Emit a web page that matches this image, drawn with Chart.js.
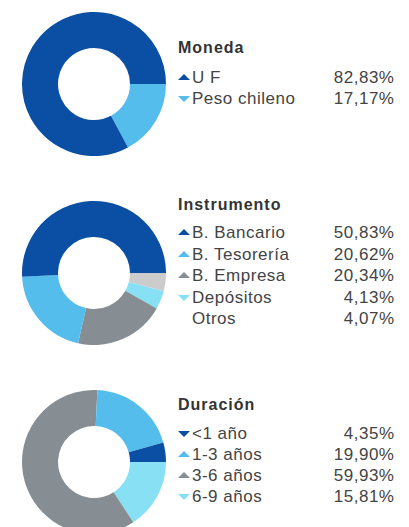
<!DOCTYPE html>
<html>
<head>
<meta charset="utf-8">
<script src="https://cdn.jsdelivr.net/npm/chart.js@4"></script>
<style>
  html, body { margin:0; padding:0; background:#fff; width:409px; height:527px; overflow:hidden; position:relative; }
  canvas.donut { position:absolute; left:22px; }
  .title { position:absolute; left:178px; font:bold 16px "Liberation Sans", Arial, sans-serif; letter-spacing:1px; color:#333; line-height:20px; white-space:nowrap; }
  .row { position:absolute; left:178px; width:216px; height:21px; font:17px "Liberation Sans", Arial, sans-serif; color:#444; line-height:21px; white-space:nowrap; letter-spacing:0.5px; }
  .row .lab { position:absolute; left:14px; }
  .row .val { position:absolute; right:-0.5px; }
  .tri { position:absolute; left:0; width:0; height:0; border-left:6px solid transparent; border-right:6px solid transparent; }
  .tri.up { top:7px; border-bottom:6px solid; }
  .tri.down { top:8px; border-top:6px solid; }
</style>
</head>
<body>
<canvas id="c1" class="donut" width="144" height="144" style="top:12px"></canvas>
<canvas id="c2" class="donut" width="144" height="144" style="top:201px"></canvas>
<canvas id="c3" class="donut" width="144" height="144" style="top:390px"></canvas>
<div id="legends"></div>
<script>
// ---- Data ----
const monedaTitle = 'Moneda';
const monedaLabels = ['U F', 'Peso chileno'];
const monedaValues = [82.83, 17.17];
const monedaColors = ['#0A4FA3', '#55BDEC'];
const monedaMarkers = ['up', 'down'];

const instrTitle = 'Instrumento';
const instrLabels = ['B. Bancario', 'B. Tesorería', 'B. Empresa', 'Depósitos', 'Otros'];
const instrValues = [50.83, 20.62, 20.34, 4.13, 4.07];
const instrColors = ['#0A4FA3', '#55BDEC', '#868E93', '#88E0F4', '#CCCCCC'];
const instrMarkers = ['up', 'up', 'up', 'down', 'none'];

const durTitle = 'Duración';
const durLabels = ['<1 año', '1-3 años', '3-6 años', '6-9 años'];
const durValues = [4.35, 19.90, 59.93, 15.81];
const durColors = ['#0A4FA3', '#55BDEC', '#868E93', '#88E0F4'];
const durMarkers = ['down', 'up', 'up', 'down'];

function fmt(v) { return v.toFixed(2).replace('.', ',') + '%'; }

function makeDonut(id, labels, values, colors) {
  // slices run counter-clockwise from 3 o'clock in legend order
  new Chart(document.getElementById(id), {
    type: 'doughnut',
    data: {
      labels: labels.slice().reverse(),
      datasets: [{
        data: values.slice().reverse(),
        backgroundColor: colors.slice().reverse(),
        borderWidth: 0
      }]
    },
    options: {
      responsive: false,
      animation: false,
      rotation: 90,
      cutout: '50%',
      layout: { padding: 0 },
      plugins: { legend: { display: false }, tooltip: { enabled: false } }
    }
  });
}

function makeLegend(title, labels, values, colors, markers, titleTop, rowTop, step) {
  const host = document.getElementById('legends');
  const t = document.createElement('div');
  t.className = 'title';
  t.style.top = titleTop + 'px';
  t.textContent = title;
  host.appendChild(t);
  labels.forEach((lab, i) => {
    const r = document.createElement('div');
    r.className = 'row';
    r.style.top = (rowTop + i * step) + 'px';
    if (markers[i] !== 'none') {
      const tri = document.createElement('span');
      tri.className = 'tri ' + markers[i];
      if (markers[i] === 'up') tri.style.borderBottomColor = colors[i];
      else tri.style.borderTopColor = colors[i];
      r.appendChild(tri);
    }
    const l = document.createElement('span');
    l.className = 'lab';
    l.textContent = lab;
    const v = document.createElement('span');
    v.className = 'val';
    v.textContent = fmt(values[i]);
    r.appendChild(l);
    r.appendChild(v);
    host.appendChild(r);
  });
}

makeDonut('c1', monedaLabels, monedaValues, monedaColors);
makeDonut('c2', instrLabels, instrValues, instrColors);
makeDonut('c3', durLabels, durValues, durColors);

makeLegend(monedaTitle, monedaLabels, monedaValues, monedaColors, monedaMarkers, 37.5, 67, 21);
makeLegend(instrTitle, instrLabels, instrValues, instrColors, instrMarkers, 194.5, 222, 21.6);
makeLegend(durTitle, durLabels, durValues, durColors, durMarkers, 394.5, 422.5, 21.3);
</script>
</body>
</html>
